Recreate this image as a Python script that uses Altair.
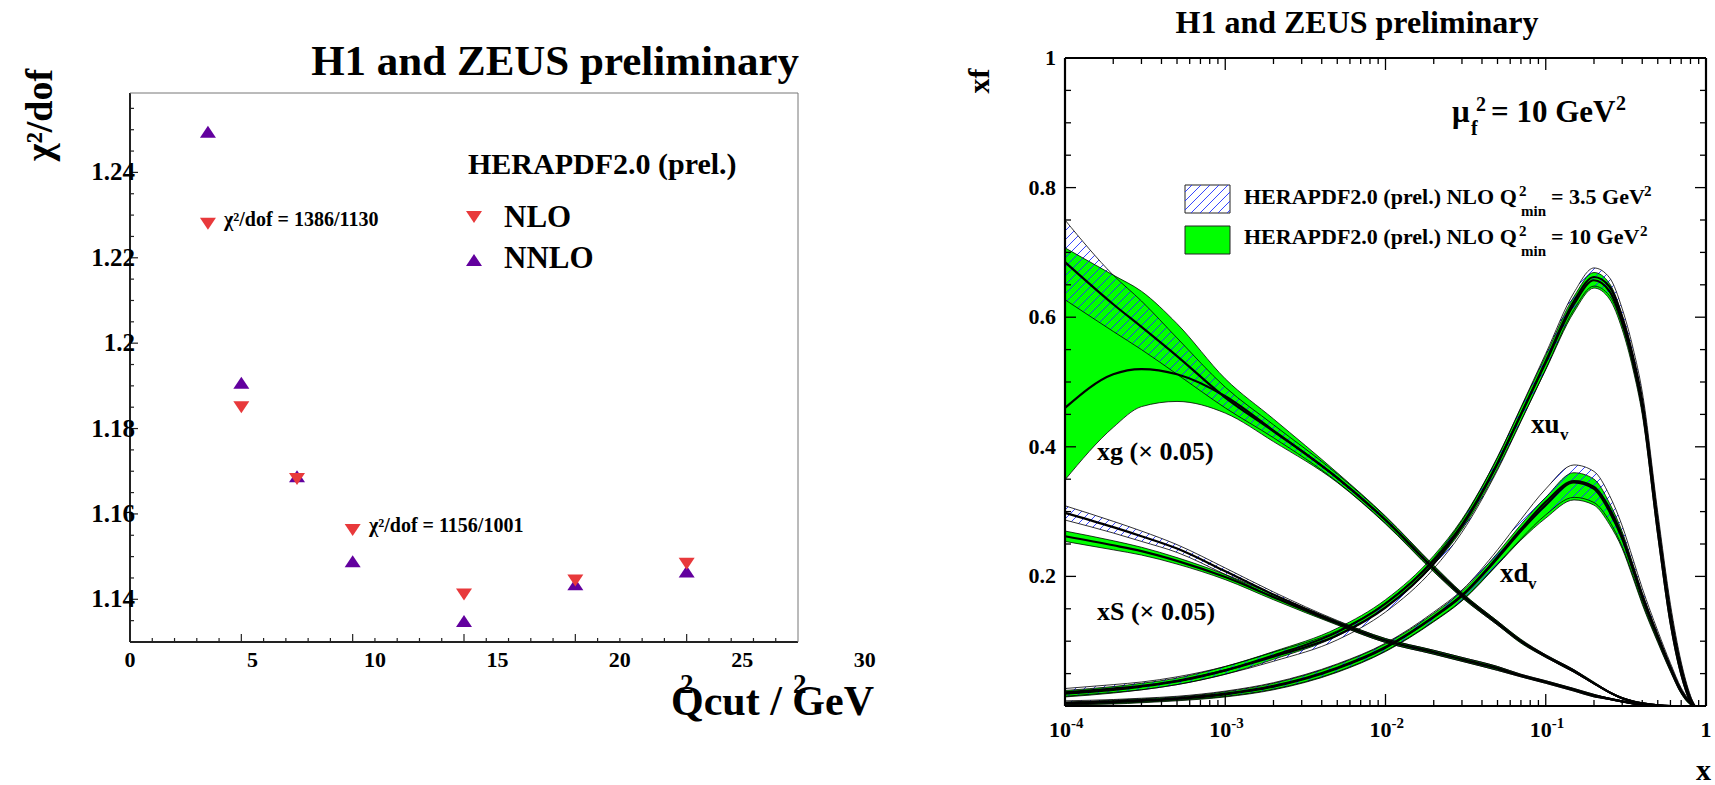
import altair as alt
import numpy as np
import pandas as pd

FONT = "Liberation Serif, Times New Roman, serif"

# ---------------- left panel: chi2/dof against the Q2 cut ----------------
Q2_CUT = [3.5, 5.0, 7.5, 10.0, 15.0, 20.0, 25.0]
CHI2_NLO = [1386 / 1130, 1.1836, 1.1668, 1156 / 1001, 1.1397, 1.1430, 1.1469]
CHI2_NNLO = [1.2495, 1.1907, 1.1688, 1.1489, 1.1349, 1.1435, 1.1465]
Q2_LABELS = [0, 5, 10, 15, 20, 25, 30]
CHI2_LABELS = [1.14, 1.16, 1.18, 1.20, 1.22, 1.24]
CHI2_LABEL_TEXT = ["1.14", "1.16", "1.18", "1.2", "1.22", "1.24"]

# ---------------- right panel: PDFs at mu_f^2 = 10 GeV^2 ----------------
X_GRID = [1e-4, 2e-4, 3e-4, 5e-4, 1e-3, 2e-3, 5e-3, 1e-2, 2e-2, 3e-2, 5e-2, 7e-2,
          0.10, 0.15, 0.20, 0.25, 0.30, 0.35, 0.40, 0.50, 0.60, 0.70, 0.80, 0.85]

# gluon (x 0.05), Q2min = 10 GeV^2
XG_C = [0.460, 0.512, 0.520, 0.512, 0.478, 0.425, 0.352, 0.287, 0.212, 0.171, 0.128, 0.100,
        0.077, 0.054, 0.035, 0.021, 0.012, 0.007, 0.004, 0.001, 0.0, 0.0, 0.0, 0.0]
XG_LO = [0.349, 0.430, 0.462, 0.470, 0.452, 0.408, 0.345, 0.281, 0.207, 0.167, 0.125, 0.097,
         0.075, 0.052, 0.034, 0.020, 0.011, 0.006, 0.003, 0.001, 0.0, 0.0, 0.0, 0.0]
XG_HI = [0.707, 0.665, 0.640, 0.590, 0.505, 0.443, 0.360, 0.293, 0.217, 0.175, 0.131, 0.103,
         0.079, 0.056, 0.037, 0.022, 0.013, 0.008, 0.005, 0.002, 0.0, 0.0, 0.0, 0.0]
# gluon (x 0.05), Q2min = 3.5 GeV^2
XG_HC = [0.685, 0.620, 0.585, 0.540, 0.476, 0.424, 0.352, 0.287, 0.212, 0.171, 0.128, 0.100,
         0.077, 0.054, 0.035, 0.021, 0.012, 0.007, 0.004, 0.001, 0.0, 0.0, 0.0, 0.0]
XG_HLO = [0.627, 0.578, 0.550, 0.512, 0.460, 0.414, 0.346, 0.282, 0.208, 0.168, 0.125, 0.098,
          0.075, 0.052, 0.034, 0.020, 0.011, 0.006, 0.003, 0.001, 0.0, 0.0, 0.0, 0.0]
XG_HHI = [0.750, 0.665, 0.625, 0.568, 0.492, 0.434, 0.358, 0.292, 0.216, 0.174, 0.131, 0.102,
          0.079, 0.056, 0.036, 0.022, 0.013, 0.008, 0.005, 0.002, 0.0, 0.0, 0.0, 0.0]

# sea (x 0.05)
XS_C = [0.262, 0.248, 0.239, 0.224, 0.199, 0.168, 0.128, 0.101, 0.083, 0.072, 0.058, 0.047,
        0.037, 0.025, 0.016, 0.011, 0.007, 0.004, 0.002, 0.0005, 0.0, 0.0, 0.0, 0.0]
XS_E = [0.008, 0.007, 0.006, 0.005, 0.004, 0.004, 0.003, 0.003, 0.003, 0.003, 0.003, 0.002,
        0.002, 0.002, 0.002, 0.001, 0.001, 0.001, 0.001, 0.0005, 0.0, 0.0, 0.0, 0.0]
XS_HC = [0.298, 0.276, 0.262, 0.243, 0.208, 0.172, 0.129, 0.101, 0.083, 0.072, 0.058, 0.047,
         0.037, 0.025, 0.016, 0.011, 0.007, 0.004, 0.002, 0.0005, 0.0, 0.0, 0.0, 0.0]
XS_HE = [0.011, 0.009, 0.008, 0.006, 0.005, 0.004, 0.003, 0.003, 0.003, 0.003, 0.003, 0.002,
         0.002, 0.002, 0.002, 0.001, 0.001, 0.001, 0.001, 0.0005, 0.0, 0.0, 0.0, 0.0]

# u valence
XU_C = [0.019, 0.025, 0.030, 0.038, 0.055, 0.078, 0.114, 0.158, 0.225, 0.280, 0.375, 0.450,
        0.530, 0.620, 0.657, 0.640, 0.592, 0.530, 0.460, 0.270, 0.130, 0.050, 0.008, 0.0]
XU_E = [0.005, 0.005, 0.005, 0.005, 0.006, 0.006, 0.006, 0.006, 0.007, 0.008, 0.009, 0.010,
        0.011, 0.012, 0.012, 0.012, 0.011, 0.010, 0.010, 0.008, 0.006, 0.004, 0.002, 0.0]
XU_HC = [0.021, 0.027, 0.031, 0.039, 0.055, 0.076, 0.109, 0.152, 0.220, 0.277, 0.374, 0.450,
         0.532, 0.625, 0.662, 0.647, 0.600, 0.540, 0.472, 0.285, 0.145, 0.060, 0.012, 0.0]
XU_HE = [0.006, 0.006, 0.006, 0.006, 0.006, 0.007, 0.007, 0.007, 0.008, 0.009, 0.010, 0.011,
         0.012, 0.013, 0.014, 0.014, 0.013, 0.013, 0.013, 0.014, 0.012, 0.008, 0.004, 0.0]

# d valence
XD_C = [0.004, 0.006, 0.008, 0.011, 0.018, 0.030, 0.058, 0.090, 0.137, 0.170, 0.228, 0.270,
        0.310, 0.345, 0.335, 0.300, 0.258, 0.210, 0.167, 0.105, 0.058, 0.022, 0.004, 0.0]
XD_LO = [0.002, 0.003, 0.005, 0.008, 0.014, 0.025, 0.052, 0.084, 0.130, 0.162, 0.218, 0.256,
         0.290, 0.318, 0.310, 0.280, 0.243, 0.198, 0.157, 0.098, 0.053, 0.019, 0.002, 0.0]
XD_HI = [0.006, 0.009, 0.011, 0.014, 0.022, 0.035, 0.064, 0.096, 0.143, 0.177, 0.236, 0.280,
         0.322, 0.360, 0.350, 0.313, 0.269, 0.219, 0.175, 0.111, 0.062, 0.025, 0.005, 0.0]
XD_HC = [0.005, 0.007, 0.009, 0.012, 0.019, 0.031, 0.059, 0.091, 0.138, 0.171, 0.230, 0.273,
         0.315, 0.347, 0.338, 0.305, 0.262, 0.214, 0.171, 0.108, 0.060, 0.024, 0.005, 0.0]
XD_HE = [0.003, 0.003, 0.003, 0.003, 0.004, 0.005, 0.006, 0.006, 0.007, 0.008, 0.011, 0.015,
         0.020, 0.025, 0.024, 0.020, 0.016, 0.013, 0.011, 0.008, 0.006, 0.004, 0.002, 0.0]

# ---------------- layout (pixel ranges of the two frames) ----------------
L_DOMAIN_X = [0.0, 30.0]
L_DOMAIN_Y = [1.13, 1.2586]
L_RANGE_X = [130, 798]
L_RANGE_Y = [642, 93]
R_DOMAIN_X = [1e-4, 1.0]
R_DOMAIN_Y = [0.0, 1.0]
R_RANGE_X = [1065, 1706]
R_RANGE_Y = [706, 58]
PX_PER_DECADE = (R_RANGE_X[1] - R_RANGE_X[0]) / 4.0
PX_PER_UNIT = float(R_RANGE_Y[0] - R_RANGE_Y[1])
LABEL_SPREAD = 1.1
HATCH_STEP = 9.0

GREEN = "#00ff00"
HATCH_BLUE = "#2030ff"
RED = "#e8393b"
PURPLE = "#62009e"

xl = alt.Scale(domain=L_DOMAIN_X, range=L_RANGE_X, nice=False, zero=False)
yl = alt.Scale(domain=L_DOMAIN_Y, range=L_RANGE_Y, nice=False, zero=False)
xr = alt.Scale(type="log", domain=R_DOMAIN_X, range=R_RANGE_X, nice=False)
yr = alt.Scale(domain=R_DOMAIN_Y, range=R_RANGE_Y, nice=False, zero=False)


def qx(field, scale):
    return alt.X(f"{field}:Q", scale=scale, axis=None)


def qy(field, scale):
    return alt.Y(f"{field}:Q", scale=scale, axis=None)


ONE = alt.Data(values=[{"k": 0}])


def text_at(s, x, y, size, align="left", angle=0, color="black"):
    return alt.Chart(ONE).mark_text(
        align=align, baseline="alphabetic", angle=angle, font=FONT,
        fontWeight="bold", fontSize=size, color=color,
    ).encode(x=alt.value(x), y=alt.value(y), text=alt.value(s))


# ---- monotone cubic (same construction as d3.curveMonotoneX) ----
def monotone_tangents(x, y):
    n = len(x)
    h = np.diff(x)
    s = np.diff(y) / h
    t = np.zeros(n)
    for i in range(1, n - 1):
        h0, h1, s0, s1 = h[i - 1], h[i], s[i - 1], s[i]
        p = (s0 * h1 + s1 * h0) / (h0 + h1)
        t[i] = (np.sign(s0) + np.sign(s1)) * min(abs(s0), abs(s1), 0.5 * abs(p))
    t[0] = (3 * s[0] - t[1]) / 2
    t[-1] = (3 * s[-1] - t[-2]) / 2
    return t


def monotone_eval(x, y, xq):
    x = np.asarray(x, float)
    y = np.asarray(y, float)
    t = monotone_tangents(x, y)
    i = np.clip(np.searchsorted(x, xq) - 1, 0, len(x) - 2)
    dx = x[i + 1] - x[i]
    s = (xq - x[i]) / dx
    h00 = 2 * s ** 3 - 3 * s ** 2 + 1
    h10 = s ** 3 - 2 * s ** 2 + s
    h01 = -2 * s ** 3 + 3 * s ** 2
    h11 = s ** 3 - s ** 2
    return h00 * y[i] + h10 * dx * t[i] + h01 * y[i + 1] + h11 * dx * t[i + 1]


def hatch_segments(u, lo_v, hi_v):
    """45-degree '///' fill lines between two edges, in pixel-like units."""
    segs = []
    cmin = np.floor((lo_v - u).min() / HATCH_STEP) * HATCH_STEP
    cmax = (hi_v - u).max()
    for c in np.arange(cmin, cmax + HATCH_STEP, HATCH_STEP):
        v = u + c
        inside = (v >= lo_v) & (v <= hi_v) & (hi_v - lo_v > 0.6)
        idx = np.flatnonzero(inside)
        if idx.size == 0:
            continue
        br = np.flatnonzero(np.diff(idx) > 1)
        starts = np.r_[idx[0], idx[br + 1]]
        ends = np.r_[idx[br], idx[-1]]
        for a, b in zip(starts, ends):
            if u[b] - u[a] < 0.8:
                continue
            segs.append((u[a], v[a], u[b], v[b]))
    return segs


def segs_to_frame(segs):
    rows = [{"x": 10 ** (a / PX_PER_DECADE), "y": b / PX_PER_UNIT,
             "x2": 10 ** (c / PX_PER_DECADE), "y2": d / PX_PER_UNIT} for a, b, c, d in segs]
    return pd.DataFrame(rows, columns=["x", "y", "x2", "y2"])


# ---------------- bands ----------------
def sub(a, b):
    return [max(p - q, 0.0) for p, q in zip(a, b)]


def add(a, b):
    return [p + q for p, q in zip(a, b)]


CURVES = {
    "xg": dict(c=XG_C, lo=XG_LO, hi=XG_HI, hc=XG_HC, hlo=XG_HLO, hhi=XG_HHI),
    "xS": dict(c=XS_C, lo=sub(XS_C, XS_E), hi=add(XS_C, XS_E),
               hc=XS_HC, hlo=sub(XS_HC, XS_HE), hhi=add(XS_HC, XS_HE)),
    "xuv": dict(c=XU_C, lo=sub(XU_C, XU_E), hi=add(XU_C, XU_E),
                hc=XU_HC, hlo=sub(XU_HC, XU_HE), hhi=add(XU_HC, XU_HE)),
    "xdv": dict(c=XD_C, lo=XD_LO, hi=XD_HI,
                hc=XD_HC, hlo=sub(XD_HC, XD_HE), hhi=add(XD_HC, XD_HE)),
}

area_rows, thin_rows, thick_rows = [], [], []
hatch_all = []
u_grid = np.log10(X_GRID) * PX_PER_DECADE
u_fine = np.linspace(u_grid[0], u_grid[-1], 5000)
for name, cv in CURVES.items():
    for xv, lo, hi in zip(X_GRID, cv["lo"], cv["hi"]):
        area_rows.append({"curve": name, "x": xv, "lo": lo, "hi": hi})
    for key in ("lo", "hi", "hlo", "hhi"):
        for xv, yv in zip(X_GRID, cv[key]):
            thin_rows.append({"s": f"{name}-{key}", "x": xv, "y": yv})
    for key in ("c", "hc"):
        for xv, yv in zip(X_GRID, cv[key]):
            thick_rows.append({"s": f"{name}-{key}", "x": xv, "y": yv})
    lo_v = monotone_eval(u_grid, np.array(cv["hlo"]) * PX_PER_UNIT, u_fine)
    hi_v = monotone_eval(u_grid, np.array(cv["hhi"]) * PX_PER_UNIT, u_fine)
    hatch_all += hatch_segments(u_fine, lo_v, hi_v)

areas_df = pd.DataFrame(area_rows)
thin_df = pd.DataFrame(thin_rows)
thick_df = pd.DataFrame(thick_rows)
hatch_df = segs_to_frame(hatch_all)

# ---------------- right legend swatches (placed in data space) ----------------
def px_to_x(px):
    return 10 ** ((px - R_RANGE_X[0]) / PX_PER_DECADE - 4)


def py_to_y(py):
    return (R_RANGE_Y[0] - py) / PX_PER_UNIT


SW_X = (1185, 1230)
SW1_Y = (185, 213)
SW2_Y = (226, 254)
swatch_df = pd.DataFrame({
    "x": [px_to_x(SW_X[0])] * 2, "x2": [px_to_x(SW_X[1])] * 2,
    "y": [py_to_y(SW1_Y[1]), py_to_y(SW2_Y[1])], "y2": [py_to_y(SW1_Y[0]), py_to_y(SW2_Y[0])],
    "fill": ["white", GREEN],
})
su = np.linspace(np.log10(px_to_x(SW_X[0])), np.log10(px_to_x(SW_X[1])), 400) * PX_PER_DECADE
sw_hatch = hatch_segments(su, np.full_like(su, py_to_y(SW1_Y[1]) * PX_PER_UNIT),
                          np.full_like(su, py_to_y(SW1_Y[0]) * PX_PER_UNIT))
sw_hatch_df = segs_to_frame(sw_hatch)

# ================= left panel layers =================
left_layers = []

# frame: axis lines (left / bottom) and thin top / right edges
left_layers.append(alt.Chart(pd.DataFrame({"x": [0.0], "y": [L_DOMAIN_Y[0]], "y2": [L_DOMAIN_Y[1]]}))
                   .mark_rule(color="#222222", strokeWidth=2)
                   .encode(x=qx("x", xl), y=qy("y", yl), y2="y2"))
left_layers.append(alt.Chart(pd.DataFrame({"x": [0.0], "x2": [30.0], "y": [L_DOMAIN_Y[0]]}))
                   .mark_rule(color="#222222", strokeWidth=2)
                   .encode(x=qx("x", xl), x2="x2", y=qy("y", yl)))
left_layers.append(alt.Chart(pd.DataFrame({"x": [0.0], "x2": [30.0], "y": [L_DOMAIN_Y[1]]}))
                   .mark_rule(color="#777777", strokeWidth=1)
                   .encode(x=qx("x", xl), x2="x2", y=qy("y", yl)))
left_layers.append(alt.Chart(pd.DataFrame({"x": [30.0], "y": [L_DOMAIN_Y[0]], "y2": [L_DOMAIN_Y[1]]}))
                   .mark_rule(color="#777777", strokeWidth=1)
                   .encode(x=qx("x", xl), y=qy("y", yl), y2="y2"))

# inward ticks
lx_ticks = pd.DataFrame({"v": list(range(1, 30)), "b": L_DOMAIN_Y[0]})
lx_ticks["major"] = lx_ticks["v"] % 5 == 0
for is_major, ln in ((True, 8), (False, 4)):
    left_layers.append(alt.Chart(lx_ticks[lx_ticks["major"] == is_major])
                       .mark_rule(color="#222222", strokeWidth=1.2, y2Offset=-ln)
                       .encode(x=qx("v", xl), y=qy("b", yl), y2="b"))
ly_vals = np.round(np.arange(1.135, 1.2551, 0.005), 3)
ly_ticks = pd.DataFrame({"v": ly_vals, "b": 0.0,
                         "major": [abs(round(v / 0.02) * 0.02 - v) < 1e-6 for v in ly_vals]})
for is_major, ln in ((True, 8), (False, 4)):
    left_layers.append(alt.Chart(ly_ticks[ly_ticks["major"] == is_major])
                       .mark_rule(color="#222222", strokeWidth=1.2, x2Offset=ln)
                       .encode(x=qx("b", xl), x2="b", y=qy("v", yl)))

# tick labels
lx_lab = pd.DataFrame({"pos": [v * LABEL_SPREAD for v in Q2_LABELS],
                       "t": [str(v) for v in Q2_LABELS], "b": L_DOMAIN_Y[0]})
left_layers.append(alt.Chart(lx_lab).mark_text(font=FONT, fontWeight="bold", fontSize=22,
                                               align="center", baseline="alphabetic", dy=25)
                   .encode(x=qx("pos", xl), y=qy("b", yl), text="t:N"))
ly_lab = pd.DataFrame({"v": CHI2_LABELS, "t": CHI2_LABEL_TEXT, "b": 0.0})
left_layers.append(alt.Chart(ly_lab).mark_text(font=FONT, fontWeight="bold", fontSize=25,
                                               align="right", baseline="middle", dx=5)
                   .encode(x=qx("b", xl), y=qy("v", yl), text="t:N"))

# data points
DOWN_TRI = "M-1,-1.5L1,-1.5L0,0Z"
UP_TRI = "M0,-0.75L1,0.75L-1,0.75Z"
pts = pd.DataFrame({"q2": Q2_CUT, "nlo": CHI2_NLO, "nnlo": CHI2_NNLO})
left_layers.append(alt.Chart(pts).mark_point(shape=UP_TRI, filled=True, size=256, color=PURPLE,
                                             opacity=1, strokeWidth=0)
                   .encode(x=qx("q2", xl), y=qy("nnlo", yl)))
left_layers.append(alt.Chart(pts).mark_point(shape=DOWN_TRI, filled=True, size=256, color=RED,
                                             opacity=1, strokeWidth=0)
                   .encode(x=qx("q2", xl), y=qy("nlo", yl)))

# texts
left_layers += [
    text_at("H1 and ZEUS preliminary", 799, 75, 43, align="right"),
    text_at("χ²/dof", 52, 115, 38, align="center", angle=270),
    text_at("Qcut / GeV", 671, 715, 42),
    text_at("2", 680, 693, 27),
    text_at("2", 793, 693, 27),
    text_at("HERAPDF2.0 (prel.)", 468, 174, 30),
    text_at("NLO", 504, 227, 31),
    text_at("NNLO", 504, 268, 31),
    text_at("χ²/dof = 1386/1130", 224, 226, 20),
    text_at("χ²/dof = 1156/1001", 369, 532, 20),
]
left_layers.append(alt.Chart(ONE).mark_point(shape=DOWN_TRI, filled=True, size=256, color=RED,
                                             opacity=1, strokeWidth=0)
                   .encode(x=alt.value(474), y=alt.value(223)))
left_layers.append(alt.Chart(ONE).mark_point(shape=UP_TRI, filled=True, size=256, color=PURPLE,
                                             opacity=1, strokeWidth=0)
                   .encode(x=alt.value(474), y=alt.value(260)))

# ================= right panel layers =================
right_layers = []

right_layers.append(alt.Chart(areas_df).mark_area(color=GREEN, opacity=1, interpolate="monotone")
                    .encode(x=qx("x", xr), y=qy("lo", yr), y2="hi", detail="curve:N"))
right_layers.append(alt.Chart(hatch_df).mark_rule(color=HATCH_BLUE, strokeWidth=0.9)
                    .encode(x=qx("x", xr), y=qy("y", yr), x2="x2", y2="y2"))
right_layers.append(alt.Chart(thin_df).mark_line(color="black", strokeWidth=0.8, interpolate="monotone")
                    .encode(x=qx("x", xr), y=qy("y", yr), detail="s:N"))
right_layers.append(alt.Chart(thick_df).mark_line(color="black", strokeWidth=2.2, interpolate="monotone")
                    .encode(x=qx("x", xr), y=qy("y", yr), detail="s:N"))

# frame
for d in (
    {"x": [1e-4], "x2": [1.0], "y": [0.0], "y2": [0.0]},
    {"x": [1e-4], "x2": [1.0], "y": [1.0], "y2": [1.0]},
    {"x": [1e-4], "x2": [1e-4], "y": [0.0], "y2": [1.0]},
    {"x": [1.0], "x2": [1.0], "y": [0.0], "y2": [1.0]},
):
    right_layers.append(alt.Chart(pd.DataFrame(d)).mark_rule(color="black", strokeWidth=2.2)
                        .encode(x=qx("x", xr), x2="x2", y=qy("y", yr), y2="y2"))

# inward ticks on all four sides
ry_vals = np.round(np.arange(0.05, 0.951, 0.05), 2)
ry_major = [abs(round(v / 0.2) * 0.2 - v) < 1e-6 for v in ry_vals]
for base, sign in ((1e-4, 1), (1.0, -1)):
    df = pd.DataFrame({"v": ry_vals, "b": base, "major": ry_major})
    for is_major, ln in ((True, 11), (False, 6)):
        right_layers.append(alt.Chart(df[df["major"] == is_major])
                            .mark_rule(color="black", strokeWidth=1.3, x2Offset=sign * ln)
                            .encode(x=qx("b", xr), x2="b", y=qy("v", yr)))
rx_major = [1e-3, 1e-2, 1e-1]
rx_minor = [k * 10.0 ** e for e in range(-4, 0) for k in range(2, 10)]
for base, sign in ((0.0, -1), (1.0, 1)):
    for vals, ln in ((rx_major, 12), (rx_minor, 6)):
        df = pd.DataFrame({"v": vals, "b": base})
        right_layers.append(alt.Chart(df).mark_rule(color="black", strokeWidth=1.3, y2Offset=sign * ln)
                            .encode(x=qx("v", xr), y=qy("b", yr), y2="b"))

# tick labels
RY_LABELS = [0.2, 0.4, 0.6, 0.8, 1.0]
RY_TEXT = ["0.2", "0.4", "0.6", "0.8", "1"]
right_layers.append(alt.Chart(pd.DataFrame({"v": RY_LABELS, "t": RY_TEXT, "b": 1e-4}))
                    .mark_text(font=FONT, fontWeight="bold", fontSize=22, align="right",
                               baseline="middle", dx=-9)
                    .encode(x=qx("b", xr), y=qy("v", yr), text="t:N"))
RX_DECADES = [1e-4, 1e-3, 1e-2, 1e-1]
RX_EXP = ["-4", "-3", "-2", "-1"]
dec_df = pd.DataFrame({"v": RX_DECADES, "e": RX_EXP, "b": 0.0, "ten": "10"})
right_layers.append(alt.Chart(dec_df).mark_text(font=FONT, fontWeight="bold", fontSize=22,
                                                align="right", baseline="alphabetic", dx=6, dy=31)
                    .encode(x=qx("v", xr), y=qy("b", yr), text="ten:N"))
right_layers.append(alt.Chart(dec_df).mark_text(font=FONT, fontWeight="bold", fontSize=15,
                                                align="left", baseline="alphabetic", dx=6, dy=22)
                    .encode(x=qx("v", xr), y=qy("b", yr), text="e:N"))
right_layers.append(alt.Chart(pd.DataFrame({"v": [1.0], "b": [0.0], "t": ["1"]}))
                    .mark_text(font=FONT, fontWeight="bold", fontSize=22, align="center",
                               baseline="alphabetic", dy=31)
                    .encode(x=qx("v", xr), y=qy("b", yr), text="t:N"))

# legend swatches
right_layers.append(alt.Chart(swatch_df).mark_rect(stroke="#222222", strokeWidth=1)
                    .encode(x=qx("x", xr), x2="x2", y=qy("y", yr), y2="y2",
                            fill=alt.Fill("fill:N", scale=None)))
right_layers.append(alt.Chart(sw_hatch_df).mark_rule(color=HATCH_BLUE, strokeWidth=0.9)
                    .encode(x=qx("x", xr), y=qy("y", yr), x2="x2", y2="y2"))

right_layers += [
    text_at("H1 and ZEUS preliminary", 1357, 33, 32, align="center"),
    text_at("xf", 989, 81, 30, align="center", angle=270),
    text_at("x", 1711, 780, 30, align="right"),
    text_at("μ", 1452, 122, 31),
    text_at("2", 1476, 111, 20),
    text_at("f", 1471, 135, 20),
    text_at("= 10 GeV", 1491, 122, 31),
    text_at("2", 1616, 110, 20),
    text_at("HERAPDF2.0 (prel.) NLO Q", 1244, 204, 22),
    text_at("2", 1519, 196, 15),
    text_at("min", 1521, 216, 15),
    text_at("= 3.5 GeV", 1551, 204, 22),
    text_at("2", 1644, 196, 15),
    text_at("HERAPDF2.0 (prel.) NLO Q", 1244, 244, 22),
    text_at("2", 1519, 236, 15),
    text_at("min", 1521, 256, 15),
    text_at("= 10 GeV", 1551, 244, 22),
    text_at("2", 1640, 236, 15),
    text_at("xg (× 0.05)", 1097, 460, 26),
    text_at("xS (× 0.05)", 1097, 620, 26),
    text_at("xu", 1531, 433, 27),
    text_at("v", 1560, 440, 17),
    text_at("xd", 1500, 582, 27),
    text_at("v", 1528, 589, 17),
]

left = alt.layer(*left_layers)
right = alt.layer(*right_layers)
chart = (
    alt.layer(left, right)
    .resolve_scale(x="independent", y="independent")
    .properties(width=1715, height=785, autosize=alt.AutoSizeParams(type="none"),
                padding=0, background="white")
    .configure_view(strokeWidth=0)
)
chart.save("out.html", embed_options={"renderer": "svg", "actions": False})
